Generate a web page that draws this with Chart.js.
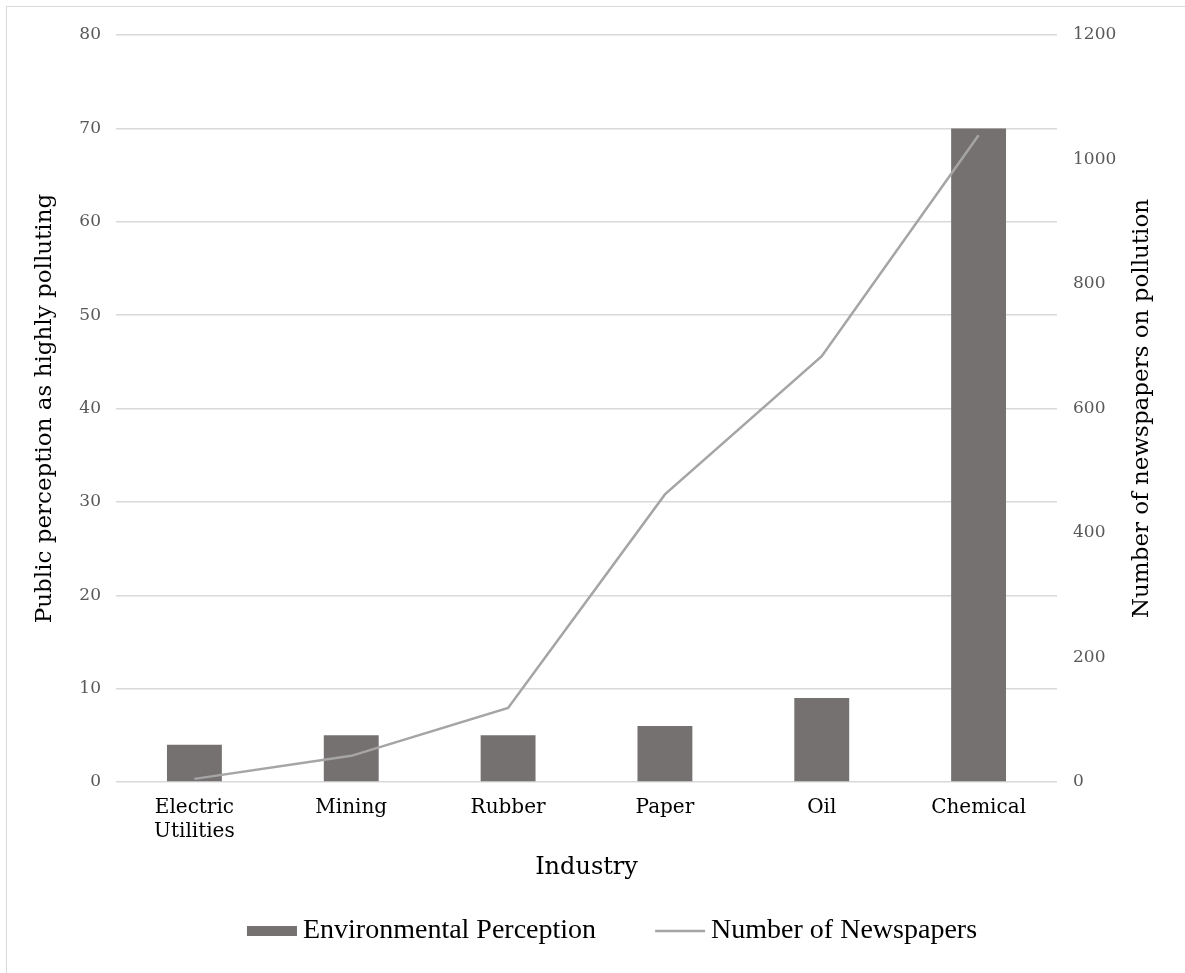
<!DOCTYPE html>
<html>
<head>
<meta charset="utf-8">
<script src="https://cdn.jsdelivr.net/npm/chart.js@4.4.1/dist/chart.umd.min.js"></script>
<style>
    html, body { margin: 0; padding: 0; background: #fff; }
    #wrap { position: relative; width: 1185px; height: 973px; overflow: hidden; }
    #frame { position: absolute; left: 6px; top: 6px; width: 1200px; height: 1000px; border: 1px solid #d9d9d9; }
    #chart { position: absolute; left: 0; top: 0; }
</style>
</head>
<body>
<div id="wrap">
    <div id="frame"></div>
    <canvas id="chart" width="1185" height="973"></canvas>
</div>
<script>
// Industries and their two measures
const industries = [['Electric', 'Utilities'], 'Mining', 'Rubber', 'Paper', 'Oil', 'Chemical'];
const perception = [4, 5, 5, 6, 9, 70];
const newspapers = [5, 42, 119, 462, 684, 1039];

const seriesNames = ['Environmental Perception', 'Number of Newspapers'];
const leftTitle = 'Public perception as highly polluting';
const rightTitle = 'Number of newspapers on pollution';
const xTitle = 'Industry';

const barColor = '#767171';
const lineColor = '#a5a5a5';
const gridColor = '#d9d9d9';
const serif = "'DejaVu Serif', serif";

// Right axis title reads bottom-to-top, so it is drawn by hand
const rightTitlePlugin = {
    id: 'rightTitle',
    afterDraw(chart) {
        const ctx = chart.ctx;
        const area = chart.chartArea;
        ctx.save();
        ctx.translate(1142, (area.top + area.bottom) / 2);
        ctx.rotate(-Math.PI / 2);
        ctx.font = "23px " + serif;
        ctx.fillStyle = '#000';
        ctx.textAlign = 'center';
        ctx.textBaseline = 'middle';
        ctx.fillText(rightTitle, 0, 0);
        ctx.restore();
    }
};

// Legend drawn below the axis title
const legendPlugin = {
    id: 'bottomLegend',
    afterDraw(chart) {
        const ctx = chart.ctx;
        const y = 931;
        const swatch = 50, gap = 6, between = 59;
        ctx.save();
        ctx.font = "28px 'Liberation Serif', serif";
        const w0 = ctx.measureText(seriesNames[0]).width;
        const w1 = ctx.measureText(seriesNames[1]).width;
        const total = swatch + gap + w0 + between + swatch + gap + w1;
        let x = 612 - total / 2;

        ctx.fillStyle = barColor;
        ctx.fillRect(x, y - 5, swatch, 10);
        x += swatch + gap;
        ctx.fillStyle = '#000';
        ctx.textBaseline = 'middle';
        ctx.fillText(seriesNames[0], x, y);
        x += w0 + between;

        ctx.strokeStyle = lineColor;
        ctx.lineWidth = 2.5;
        ctx.beginPath();
        ctx.moveTo(x, y);
        ctx.lineTo(x + swatch, y);
        ctx.stroke();
        x += swatch + gap;
        ctx.fillText(seriesNames[1], x, y);
        ctx.restore();
    }
};

new Chart(document.getElementById('chart'), {
    type: 'bar',
    data: {
        labels: industries,
        datasets: [{
            type: 'line',
            label: seriesNames[1],
            data: newspapers,
            yAxisID: 'y1',
            borderColor: lineColor,
            borderWidth: 2.5,
            tension: 0,
            pointRadius: 0,
            fill: false,
            order: 0
        }, {
            type: 'bar',
            label: seriesNames[0],
            data: perception,
            yAxisID: 'y',
            backgroundColor: barColor,
            borderWidth: 0,
            categoryPercentage: 1,
            barPercentage: 0.35,
            order: 1
        }]
    },
    options: {
        responsive: false,
        animation: false,
        layout: {
            padding: { top: 35, left: 0, right: 0, bottom: 91 }
        },
        plugins: {
            legend: { display: false },
            tooltip: { enabled: false }
        },
        scales: {
            x: {
                grid: { display: false },
                border: { display: false },
                ticks: {
                    color: '#000',
                    padding: 6,
                    font: { family: serif, size: 20 }
                },
                title: {
                    display: true,
                    text: xTitle,
                    color: '#000',
                    padding: 0,
                    font: { family: serif, size: 24 }
                },
                afterFit(scale) { scale.height = 100; }
            },
            y: {
                position: 'left',
                min: 0,
                max: 80,
                ticks: {
                    stepSize: 10,
                    color: '#595959',
                    padding: 15,
                    font: { family: serif, size: 17 }
                },
                grid: {
                    color: gridColor,
                    lineWidth: 1.5,
                    drawTicks: false
                },
                border: { display: false },
                title: {
                    display: true,
                    text: leftTitle,
                    color: '#000',
                    padding: { top: 31, bottom: 0 },
                    font: { family: serif, size: 23 }
                },
                afterFit(scale) { scale.width = 116; }
            },
            y1: {
                position: 'right',
                min: 0,
                max: 1200,
                ticks: {
                    stepSize: 200,
                    color: '#595959',
                    padding: 16,
                    font: { family: serif, size: 17 },
                    callback: (value) => String(value)
                },
                grid: { display: false, drawTicks: false },
                border: { display: false },
                afterFit(scale) { scale.width = 128; }
            }
        }
    },
    plugins: [rightTitlePlugin, legendPlugin]
});
</script>
</body>
</html>
